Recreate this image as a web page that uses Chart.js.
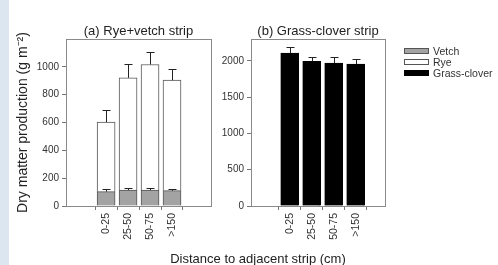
<!DOCTYPE html>
<html>
<head>
<meta charset="utf-8">
<script src="https://cdn.jsdelivr.net/npm/chart.js@4/dist/chart.umd.min.js"></script>
<style>
  body { margin: 0; background: #fff; font-family: "Liberation Sans", Arial, sans-serif; }
  #wrap { position: relative; width: 498px; height: 265px; overflow: hidden; background: #fff; }
  #strip { position: absolute; left: 0; top: 0; width: 9px; height: 265px; background: #dce6f1; }
  #cA { position: absolute; left: 0; top: 0; }
  #cB { position: absolute; left: 215px; top: 0; }
  #xtitle { position: absolute; left: 0; width: 516px; top: 251px; text-align: center; font-size: 13px; color: #222; }
  .leg { position: absolute; left: 404px; font-size: 10.5px; color: #333; height: 11px; line-height: 11px; }
  .sw { display: inline-block; width: 23px; height: 4px; border: 1px solid #555; vertical-align: middle; margin-right: 4px; position: relative; top: -1px; }
</style>
</head>
<body>
<div id="wrap">
  <div id="strip"></div>
  <canvas id="cA" width="230" height="265"></canvas>
  <canvas id="cB" width="283" height="265"></canvas>
  <div id="xtitle">Distance to adjacent strip (cm)</div>
  <div id="legend"></div>
</div>
<script>
// distance classes
const categories = ["0-25", "25-50", "50-75", ">150"];

// (a) rye+vetch strip, g m-2
const vetch = [103, 115, 115, 110];
const vetchErr = [20, 12, 12, 12];
const rye = [500, 806, 902, 794];
const ryeErr = [86, 98, 86, 77]; // above the stacked total
const ticksA = [0, 200, 400, 600, 800, 1000];

// (b) grass-clover strip
const grassClover = [2105, 1991, 1968, 1954];
const grassErr = [78, 59, 82, 69];
const ticksB = [0, 500, 1000, 1500, 2000];

const legendNames = ["Vetch", "Rye", "Grass-clover"];
const legendColors = ["#a3a3a3", "#ffffff", "#000000"];

const FONT = "'Liberation Sans', Arial, sans-serif";
Chart.defaults.font.family = FONT;
Chart.defaults.color = "#333";
Chart.defaults.animation = false;

const pts = (arr) => arr.map((v, i) => ({ x: i, y: v }));

// box around the plot area
const frame = {
  id: "frame",
  afterDraw(chart) {
    const a = chart.chartArea, ctx = chart.ctx;
    ctx.save();
    ctx.strokeStyle = "#8a8a8a";
    ctx.lineWidth = 1;
    ctx.strokeRect(Math.round(a.left) + 0.5, Math.round(a.top) + 0.5,
      Math.round(a.right - a.left), Math.round(a.bottom - a.top));
    ctx.restore();
  },
};

// upward error bars, one list per dataset (drawn from the stacked top)
const errBars = {
  id: "errBars",
  afterDatasetsDraw(chart, args, opts) {
    const ctx = chart.ctx, xs = chart.scales.x, ys = chart.scales.y;
    ctx.save();
    ctx.strokeStyle = "#222";
    ctx.lineWidth = 1;
    opts.sets.forEach((set) => {
      set.err.forEach((e, i) => {
        const base = set.base.reduce((s, arr) => s + arr[i], 0);
        const x = Math.round(xs.getPixelForValue(i)) + 0.5;
        const y0 = ys.getPixelForValue(base);
        const y1 = Math.round(ys.getPixelForValue(base + e)) + 0.5;
        ctx.beginPath();
        ctx.moveTo(x, y0);
        ctx.lineTo(x, y1);
        ctx.moveTo(x - 4, y1);
        ctx.lineTo(x + 4, y1);
        ctx.stroke();
      });
    });
    ctx.restore();
  },
};

function xAxis(max) {
  return {
    type: "linear",
    min: -1,
    max: max,
    stacked: true,
    afterBuildTicks: (s) => { s.ticks = categories.map((c, i) => ({ value: i })); },
    afterFit: (s) => { s.height = 59; },
    grid: { display: true, drawOnChartArea: false, tickLength: 4, color: "#777" },
    border: { display: true, color: "#8a8a8a" },
    ticks: {
      autoSkip: false,
      minRotation: 90,
      maxRotation: 90,
      padding: 3,
      font: { size: 10.5 },
      color: "#333",
      callback: (v) => categories[v],
    },
  };
}

function yAxis(max, tickVals, width, title) {
  return {
    min: 0,
    max: max,
    stacked: true,
    afterBuildTicks: (s) => { s.ticks = tickVals.map((v) => ({ value: v })); },
    afterFit: (s) => { s.width = width; },
    grid: { display: true, drawOnChartArea: false, tickLength: 4, color: "#777" },
    border: { display: true, color: "#8a8a8a" },
    ticks: { padding: 3, font: { size: 10 }, color: "#333", callback: (v) => String(v) },
    title: title
      ? { display: true, text: title, font: { size: 14 }, color: "#222", padding: { top: 15, bottom: 0 } }
      : { display: false },
  };
}

function titleOpts(text) {
  return {
    display: true,
    text: text,
    fullSize: false,
    font: { size: 13, weight: "normal" },
    color: "#222",
    padding: { top: 23, bottom: 0 },
  };
}

new Chart(document.getElementById("cA"), {
  type: "bar",
  data: {
    datasets: [
      { label: "Vetch", data: pts(vetch), backgroundColor: "#a3a3a3", borderColor: "#555", borderWidth: 1, barThickness: 18 },
      { label: "Rye", data: pts(rye), backgroundColor: "#ffffff", borderColor: "#555", borderWidth: 1, barThickness: 18 },
    ],
  },
  options: {
    responsive: false,
    layout: { padding: { left: 0, right: 19, top: 0.4, bottom: 0 } },
    plugins: {
      legend: { display: false },
      tooltip: { enabled: false },
      title: titleOpts("(a) Rye+vetch strip"),
      errBars: {
        sets: [
          { err: vetchErr, base: [vetch] },
          { err: ryeErr, base: [vetch, rye] },
        ],
      },
    },
    scales: {
      x: xAxis(3.95),
      y: yAxis(1200, ticksA, 66, "Dry matter production (g m\u207B\u00B2)"),
    },
  },
  plugins: [frame, errBars],
});

new Chart(document.getElementById("cB"), {
  type: "bar",
  data: {
    datasets: [
      { label: "Grass-clover", data: pts(grassClover), backgroundColor: "#000", borderColor: "#000", borderWidth: 1, barThickness: 18 },
    ],
  },
  options: {
    responsive: false,
    layout: { padding: { left: 0, right: 113, top: 0.4, bottom: 0 } },
    plugins: {
      legend: { display: false },
      tooltip: { enabled: false },
      title: titleOpts("(b) Grass-clover strip"),
      errBars: { sets: [{ err: grassErr, base: [grassClover] }] },
    },
    scales: {
      x: xAxis(3.57),
      y: yAxis(2300, ticksB, 36, null),
    },
  },
  plugins: [frame, errBars],
});

// legend on the right
const legendEl = document.getElementById("legend");
legendNames.forEach((name, i) => {
  const row = document.createElement("div");
  row.className = "leg";
  row.style.top = (46 + i * 11) + "px";
  const sw = document.createElement("span");
  sw.className = "sw";
  sw.style.background = legendColors[i];
  if (i === 2) sw.style.borderColor = "#000";
  row.appendChild(sw);
  row.appendChild(document.createTextNode(name));
  legendEl.appendChild(row);
});
</script>
</body>
</html>
